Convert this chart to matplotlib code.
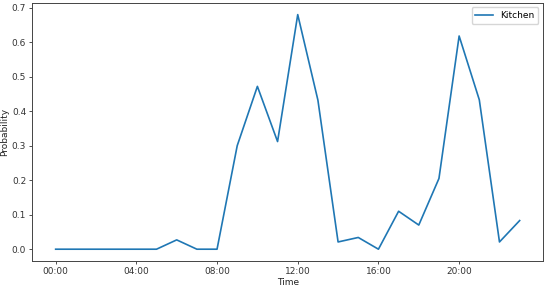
import matplotlib
matplotlib.use("Agg")
import matplotlib.pyplot as plt

hours = list(range(24))
tick_hours = [0, 4, 8, 12, 16, 20]
tick_labels = ["00:00", "04:00", "08:00", "12:00", "16:00", "20:00"]
kitchen = [0, 0, 0, 0, 0, 0, 0.027, 0, 0, 0.30, 0.472, 0.312, 0.68, 0.432,
           0.021, 0.034, 0, 0.11, 0.07, 0.205, 0.618, 0.433, 0.021, 0.083]

fig = plt.figure(figsize=(5.5, 2.88), dpi=100)
ax = fig.add_axes([0.059, 0.094, 0.928, 0.896])
ax.plot(hours, kitchen, color="#1f77b4", lw=1.2, label="Kitchen")
ax.set_xticks(tick_hours)
ax.set_xticklabels(tick_labels)
ax.set_ylim(-0.034, 0.714)
ax.set_xlim(-1.15, 24.15)
ax.tick_params(labelsize=6.5, length=2.5, width=0.6, pad=2, colors="#333333")
ax.set_xlabel("Time", fontsize=6.5, labelpad=1, color="#222222")
ax.set_ylabel("Probability", fontsize=6.5, labelpad=2, color="#222222")
for s in ax.spines.values():
    s.set_linewidth(0.7)
    s.set_color("#444444")
ax.legend(loc="upper right", fontsize=6.5)
fig.savefig("out.png", dpi=100)
